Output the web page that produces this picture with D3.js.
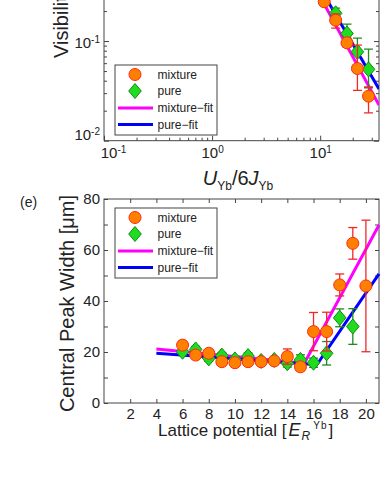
<!DOCTYPE html>
<html>
<head>
<meta charset="utf-8">
<script src="https://cdn.jsdelivr.net/npm/d3@7"></script>
<style>
  body { margin: 0; background: #fff; }
  svg { display: block; }
  text { font-family: Arial, 'Liberation Sans', sans-serif; fill: #222; }
</style>
</head>
<body>
<svg width="382" height="494"></svg>
<script>
// --- top panel (visibility vs U/6J, log-log) ---
var visMixX = [10.9, 13.9, 17.7, 22.1, 28]
var visMixY = [0.248, 0.162, 0.096, 0.053, 0.028]
var visMixLo = [0.23, 0.135, 0.087, 0.032, 0.019]
var visMixHi = [0.27, 0.187, 0.107, 0.091, 0.0346]
var visPureX = [13.9, 17.7, 22.1, 28]
var visPureY = [0.19, 0.119, 0.078, 0.052]
var visPureLo = [0.170, 0.095, 0.058, 0.034]
var visPureHi = [0.214, 0.148, 0.107, 0.083]
var visMixFitX = [8, 35], visMixFitY = [0.436, 0.0228]
var visPureFitX = [8, 35], visPureFitY = [0.514, 0.033]

// --- panel (e): central peak width vs lattice depth ---
var latticeMix = [6, 7, 8, 9, 10, 11, 12, 13, 14, 15, 16, 17, 18, 19, 20]
var widthMix = [22.7, 18.8, 19.5, 16.2, 15.8, 16.2, 16.2, 16.5, 18.2, 14.2, 28, 28, 46.3, 62.6, 45.9]
var widthMixErr = [1.5, 1.2, 1.2, 1.2, 1.2, 1.2, 1, 1.2, 3, 1.5, 7.5, 7.6, 4.3, 6.2, 25.8]
var latticePure = [6, 7, 8, 9, 10, 11, 12, 13, 14, 15, 16, 17, 18, 19]
var widthPure = [20.1, 21, 17.5, 18.6, 17.1, 18.4, 16.5, 16.9, 15.6, 16.9, 15.8, 19.5, 33.4, 30]
var widthPureErr = [1.2, 1.2, 1.2, 1.2, 1.2, 1.2, 1, 1, 1.5, 2, 1.8, 4.6, 3.5, 7]
var mixFitX = [4, 15.3, 21], mixFitY = [21.2, 15.6, 69.8]
var pureFitX = [4, 16.25, 21], pureFitY = [19.5, 15.0, 50.6]

var xTicksE = [2, 4, 6, 8, 10, 12, 14, 16, 18, 20]
var yTicksE = [0, 10, 20, 30, 40, 50, 60, 70, 80]
var yLabelsE = [0, 20, 40, 60, 80]
var legendLabels = ['mixture', 'pure', 'mixture\u2212fit', 'pure\u2212fit']

var MIX_FILL = '#ff8000', MIX_EDGE = '#ff2a10', MIX_BAR = '#f02828'
var PURE_FILL = '#20dc20', PURE_EDGE = '#138a13', PURE_BAR = '#1f8a1f'
var MIX_LINE = '#ff00ff', PURE_LINE = '#0000ff'
var AXIS = '#444'

var svg = d3.select('svg')

function zip(xs, ys) { return xs.map(function(v, i) { return [v, ys[i]] }) }

function diamond(sel) {
  sel.append('path')
    .attr('d', 'M0,-7.5L6.3,0L0,7.5L-6.3,0Z')
    .attr('fill', PURE_FILL).attr('stroke', PURE_EDGE).attr('stroke-width', 1)
}
function circle(sel) {
  sel.append('circle').attr('r', 6)
    .attr('fill', MIX_FILL).attr('stroke', MIX_EDGE).attr('stroke-width', 1)
}

function errorBars(g, pts, color) {
  var eb = g.append('g').selectAll('g').data(pts).enter().append('g')
    .attr('stroke', color).attr('stroke-width', 1.3)
  eb.append('line').attr('x1', function(d) { return d.x }).attr('x2', function(d) { return d.x })
    .attr('y1', function(d) { return d.lo }).attr('y2', function(d) { return d.hi })
  eb.append('line').attr('x1', function(d) { return d.x - 4.5 }).attr('x2', function(d) { return d.x + 4.5 })
    .attr('y1', function(d) { return d.lo }).attr('y2', function(d) { return d.lo })
  eb.append('line').attr('x1', function(d) { return d.x - 4.5 }).attr('x2', function(d) { return d.x + 4.5 })
    .attr('y1', function(d) { return d.hi }).attr('y2', function(d) { return d.hi })
}

function markers(g, pts, shape) {
  g.append('g').selectAll('g').data(pts).enter().append('g')
    .attr('transform', function(d) { return 'translate(' + d.x + ',' + d.y + ')' })
    .call(shape)
}

function legend(x0, y0) {
  var lg = svg.append('g').attr('transform', 'translate(' + x0 + ',' + y0 + ')')
  lg.append('rect').attr('width', 102).attr('height', 70)
    .attr('fill', '#fff').attr('stroke', AXIS).attr('stroke-width', 1)
  var rowY = [9.5, 26, 43, 59.5]
  lg.append('g').attr('transform', 'translate(20,' + rowY[0] + ')').call(circle)
  lg.append('g').attr('transform', 'translate(20,' + rowY[1] + ')').call(diamond)
  lg.append('line').attr('x1', 3).attr('x2', 38).attr('y1', rowY[2]).attr('y2', rowY[2])
    .attr('stroke', MIX_LINE).attr('stroke-width', 3)
  lg.append('line').attr('x1', 3).attr('x2', 38).attr('y1', rowY[3]).attr('y2', rowY[3])
    .attr('stroke', PURE_LINE).attr('stroke-width', 3)
  lg.selectAll('text.lbl').data(legendLabels).enter().append('text')
    .attr('class', 'lbl')
    .attr('x', 42.5).attr('y', function(d, i) { return rowY[i] })
    .attr('dy', '0.35em').attr('font-size', 12).attr('fill', '#333')
    .text(function(d) { return d })
}

function styleAxis(g) {
  g.select('.domain').remove()
  g.selectAll('.tick line').attr('stroke', AXIS)
  g.selectAll('.tick text').attr('fill', '#262626').attr('font-size', 15)
}

// ================= top panel =================
var xV = d3.scaleLog().domain([0.1, 35]).range([104, 379])
var yV = d3.scaleLog().domain([0.01, 1]).range([140.7, -58.6])

var xMajV = [0.1, 1, 10]
var xMinV = [0.2, 0.3, 0.4, 0.5, 0.6, 0.7, 0.8, 0.9, 2, 3, 4, 5, 6, 7, 8, 9, 20, 30]
var yMajV = [0.01, 0.1]
var yMinV = [0.02, 0.03, 0.04, 0.05, 0.06, 0.07, 0.08, 0.09, 0.2, 0.3, 0.4, 0.5, 0.6, 0.7, 0.8, 0.9]

svg.append('defs').append('clipPath').attr('id', 'clipV')
  .append('rect').attr('x', 104).attr('y', -100).attr('width', 275).attr('height', 240.7)

var visG = svg.append('g')
visG.append('path').attr('d', 'M104,-100V140.7H379V-100')
  .attr('fill', 'none').attr('stroke', AXIS).attr('stroke-width', 1)

visG.append('g').attr('transform', 'translate(0,140.7)')
  .call(d3.axisBottom(xV).tickValues(xMinV).tickSize(-3).tickFormat(''))
  .call(styleAxis)
var gxV = visG.append('g').attr('transform', 'translate(0,140.7)')
  .call(d3.axisBottom(xV).tickValues(xMajV).tickSize(-5).tickPadding(7)
    .tickFormat(function() { return '' }))
  .call(styleAxis)
gxV.selectAll('.tick text').each(function(d, i) {
  var t = d3.select(this).attr('dx', i === 0 ? 9 : 0)
  t.append('tspan').text('10')
  t.append('tspan').attr('font-size', 10).attr('dy', '-0.5em').text(Math.round(Math.log10(d)))
})

visG.append('g').attr('transform', 'translate(104,0)')
  .call(d3.axisLeft(yV).tickValues(yMinV).tickSize(-3).tickFormat(''))
  .call(styleAxis)
visG.append('g').attr('transform', 'translate(379,0)')
  .call(d3.axisRight(yV).tickValues(yMinV).tickSize(-3).tickFormat(''))
  .call(styleAxis)
visG.append('g').attr('transform', 'translate(379,0)')
  .call(d3.axisRight(yV).tickValues(yMajV).tickSize(-5).tickFormat(''))
  .call(styleAxis)
var gyV = visG.append('g').attr('transform', 'translate(104,0)')
  .call(d3.axisLeft(yV).tickValues(yMajV).tickSize(-5).tickPadding(4)
    .tickFormat(function() { return '' }))
  .call(styleAxis)
gyV.selectAll('.tick text').each(function(d, i) {
  var t = d3.select(this).attr('dy', i === 0 ? '-0.1em' : '0.45em')
  t.append('tspan').text('10')
  t.append('tspan').attr('font-size', 10).attr('dy', '-0.5em').text(Math.round(Math.log10(d)))
})

var plotV = visG.append('g').attr('clip-path', 'url(#clipV)')
var lineV = d3.line().x(function(d) { return xV(d[0]) }).y(function(d) { return yV(d[1]) })
plotV.append('path').datum(zip(visMixFitX, visMixFitY)).attr('d', lineV)
  .attr('fill', 'none').attr('stroke', MIX_LINE).attr('stroke-width', 3)
plotV.append('path').datum(zip(visPureFitX, visPureFitY)).attr('d', lineV)
  .attr('fill', 'none').attr('stroke', PURE_LINE).attr('stroke-width', 3)

var pureV = visPureX.map(function(v, i) {
  return { x: xV(v), y: yV(visPureY[i]), lo: yV(visPureLo[i]), hi: yV(visPureHi[i]) }
})
var mixV = visMixX.map(function(v, i) {
  return { x: xV(v), y: yV(visMixY[i]), lo: yV(visMixLo[i]), hi: yV(visMixHi[i]) }
})
errorBars(plotV, pureV, PURE_BAR)
markers(plotV, pureV, diamond)
errorBars(plotV, mixV, MIX_BAR)
markers(plotV, mixV, circle)

legend(115, 65)

visG.append('text').attr('transform', 'translate(68,58) rotate(-90)')
  .attr('font-size', 20).attr('fill', '#111').text('Visibility')

var xtV = visG.append('text').attr('x', 238).attr('y', 185)
  .attr('text-anchor', 'middle').attr('font-size', 20).attr('fill', '#111')
xtV.append('tspan').attr('font-style', 'italic').text('U')
xtV.append('tspan').attr('font-size', 12).attr('dy', 5).text('Yb')
xtV.append('tspan').attr('dy', -5).text('/6')
xtV.append('tspan').attr('font-style', 'italic').text('J')
xtV.append('tspan').attr('font-size', 12).attr('dy', 5).text('Yb')

// ================= panel (e) =================
var xL = d3.scaleLinear().domain([0, 21]).range([104, 379])
var yL = d3.scaleLinear().domain([0, 80]).range([403, 199])

var pe = svg.append('g')
pe.append('rect').attr('x', 104).attr('y', 199).attr('width', 275).attr('height', 204)
  .attr('fill', 'none').attr('stroke', AXIS).attr('stroke-width', 1)

pe.append('g').attr('transform', 'translate(0,403)')
  .call(d3.axisBottom(xL).tickValues(xTicksE).tickSize(-4).tickPadding(5.5))
  .call(styleAxis)
pe.append('g').attr('transform', 'translate(0,199)')
  .call(d3.axisTop(xL).tickValues(xTicksE).tickSize(-4).tickFormat(''))
  .call(styleAxis)
pe.append('g').attr('transform', 'translate(104,0)')
  .call(d3.axisLeft(yL).tickValues(yTicksE).tickSize(-4).tickPadding(4)
    .tickFormat(function(d) { return yLabelsE.indexOf(d) >= 0 ? d : '' }))
  .call(styleAxis)
pe.append('g').attr('transform', 'translate(379,0)')
  .call(d3.axisRight(yL).tickValues(yTicksE).tickSize(-4).tickFormat(''))
  .call(styleAxis)

var lineL = d3.line().x(function(d) { return xL(d[0]) }).y(function(d) { return yL(d[1]) })
pe.append('path').datum(zip(mixFitX, mixFitY)).attr('d', lineL)
  .attr('fill', 'none').attr('stroke', MIX_LINE).attr('stroke-width', 3)
pe.append('path').datum(zip(pureFitX, pureFitY)).attr('d', lineL)
  .attr('fill', 'none').attr('stroke', PURE_LINE).attr('stroke-width', 3)

var pureE = latticePure.map(function(v, i) {
  return { x: xL(v), y: yL(widthPure[i]),
    lo: yL(widthPure[i] - widthPureErr[i]), hi: yL(widthPure[i] + widthPureErr[i]) }
})
var mixE = latticeMix.map(function(v, i) {
  return { x: xL(v), y: yL(widthMix[i]),
    lo: yL(widthMix[i] - widthMixErr[i]), hi: yL(widthMix[i] + widthMixErr[i]) }
})
errorBars(pe, pureE, PURE_BAR)
markers(pe, pureE, diamond)
errorBars(pe, mixE, MIX_BAR)
markers(pe, mixE, circle)

legend(115, 208)

pe.append('text').attr('x', 20).attr('y', 207).attr('font-size', 14).attr('fill', '#111').text('(e)')

pe.append('text').attr('transform', 'translate(74,303.5) rotate(-90)')
  .attr('text-anchor', 'middle').attr('font-size', 20).attr('fill', '#111')
  .text('Central Peak Width [\u03bcm]')

var xtE = pe.append('text').attr('x', 158).attr('y', 436)
  .attr('font-size', 17).attr('fill', '#111')
xtE.append('tspan').text('Lattice potential [')
xtE.append('tspan').attr('font-style', 'italic').attr('font-size', 18).attr('dx', 2).text('E')
xtE.append('tspan').attr('font-style', 'italic').attr('font-size', 12).attr('dy', 4).attr('dx', 1).text('R')
xtE.append('tspan').attr('font-size', 10).attr('dy', -11.5).attr('dx', 3)
  .attr('letter-spacing', 1).text('Yb')
xtE.append('tspan').attr('dy', 7.5).attr('dx', 1).text(']')
</script>
</body>
</html>
